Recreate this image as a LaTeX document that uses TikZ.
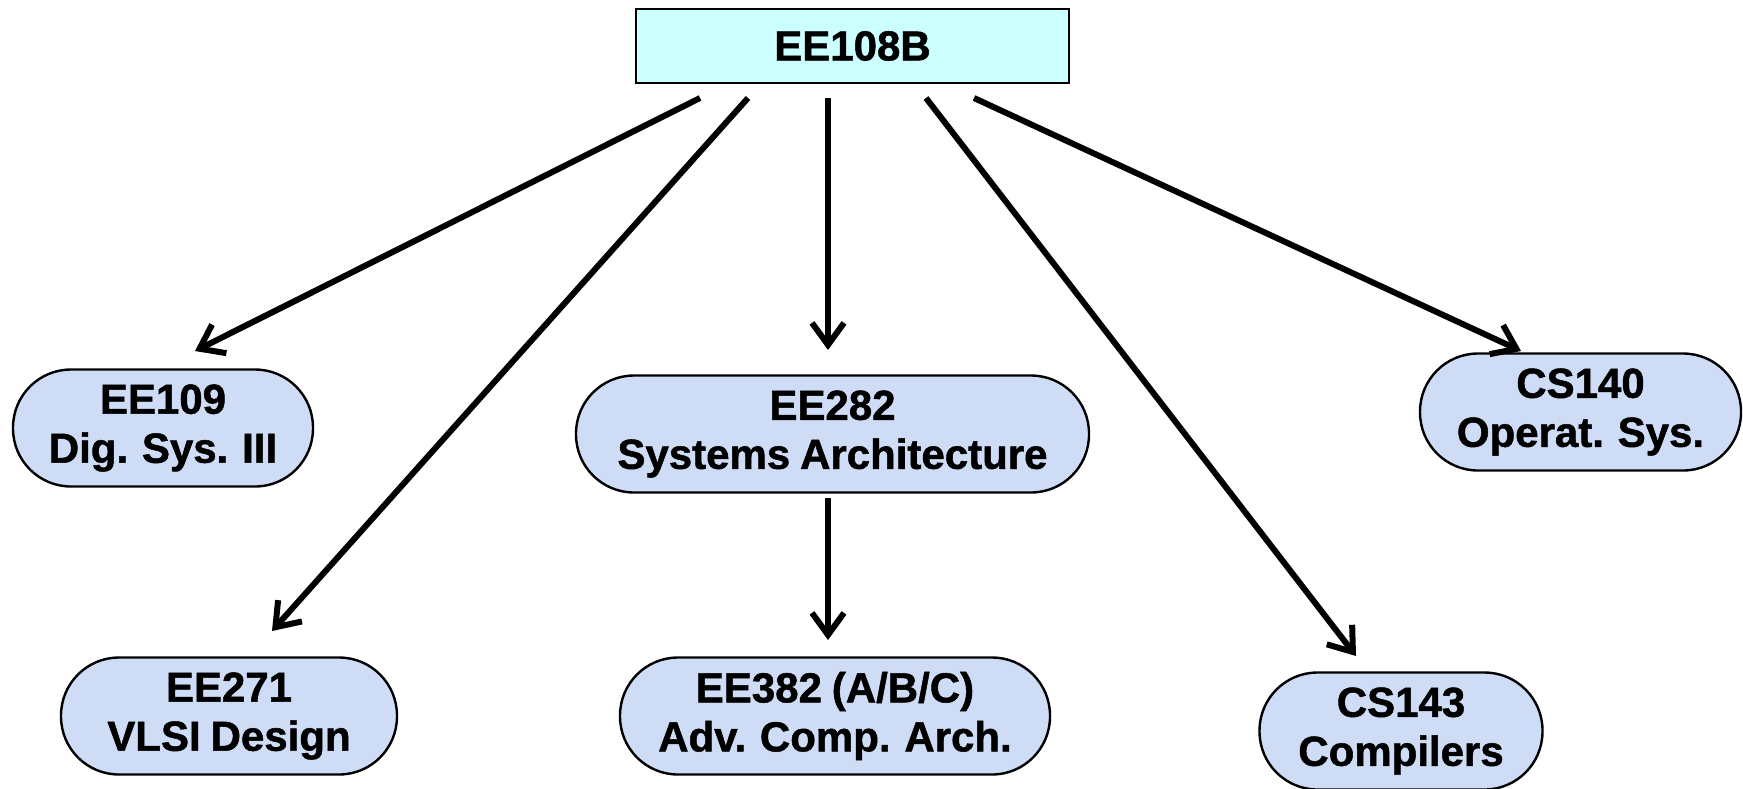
\documentclass[tikz,border=0pt]{standalone}
\usepackage{fontspec}
\setmainfont{Liberation Sans}[BoldFeatures={FakeBold=1.2}, WordSpace=0.85]
\usetikzlibrary{arrows.meta}
\definecolor{headfill}{RGB}{204,255,255}
\definecolor{coursefill}{RGB}{206,220,246}
\tikzset{
  headbox/.style={draw=black, line width=1.2pt, fill=headfill, minimum width=216.5pt,
    minimum height=37pt, inner sep=0pt, font=\fontsize{21}{25}\selectfont\bfseries},
  course/.style={draw=black, line width=1.2pt, fill=coursefill, rounded corners=29pt,
    minimum height=58.5pt, inner sep=0pt, align=center,
    font=\fontsize{21}{24.5}\selectfont\bfseries},
  link/.style={line width=3pt, -{Straight Barb[length=11pt,width=16pt,line width=3pt]}}
}
\begin{document}
\begin{tikzpicture}[x=0.5pt, y=-0.5pt]
\useasboundingbox (0,0) rectangle (1743,788);

\node[headbox] (top) at (852.5,46) {EE108B};

\node[course, minimum width=150pt]   (ee109) at (163,428)  {EE109\\Dig. Sys. III};
\node[course, minimum width=160.5pt] (cs140) at (1580.5,412) {CS140\\Operat. Sys.};
\node[course, minimum width=256.5pt] (ee282) at (832.5,434) {EE282\\Systems Architecture};
\node[course, minimum width=168pt]   (ee271) at (229,716)  {EE271\\VLSI Design};
\node[course, minimum width=215pt]   (ee382) at (835,716)  {EE382 (A/B/C)\\Adv. Comp. Arch.};
\node[course, minimum width=141.5pt] (cs143) at (1401,731) {CS143\\Compilers};

% start and end points of the connectors
\coordinate (s1) at (700,98);  \coordinate (e1) at (195,351);
\coordinate (s2) at (748,98);  \coordinate (e2) at (272,631);
\coordinate (s3) at (828,98);  \coordinate (e3) at (828,350);
\coordinate (s4) at (926,98);  \coordinate (e4) at (1356,656);
\coordinate (s5) at (974,98);  \coordinate (e5) at (1521,351);
\coordinate (s6) at (828,498); \coordinate (e6) at (828,640);

\draw[link] (s1) -- (e1);
\draw[link] (s2) -- (e2);
\draw[link] (s3) -- (e3);
\draw[link] (s4) -- (e4);
\draw[link] (s5) -- (e5);
\draw[link] (s6) -- (e6);
\end{tikzpicture}
\end{document}
